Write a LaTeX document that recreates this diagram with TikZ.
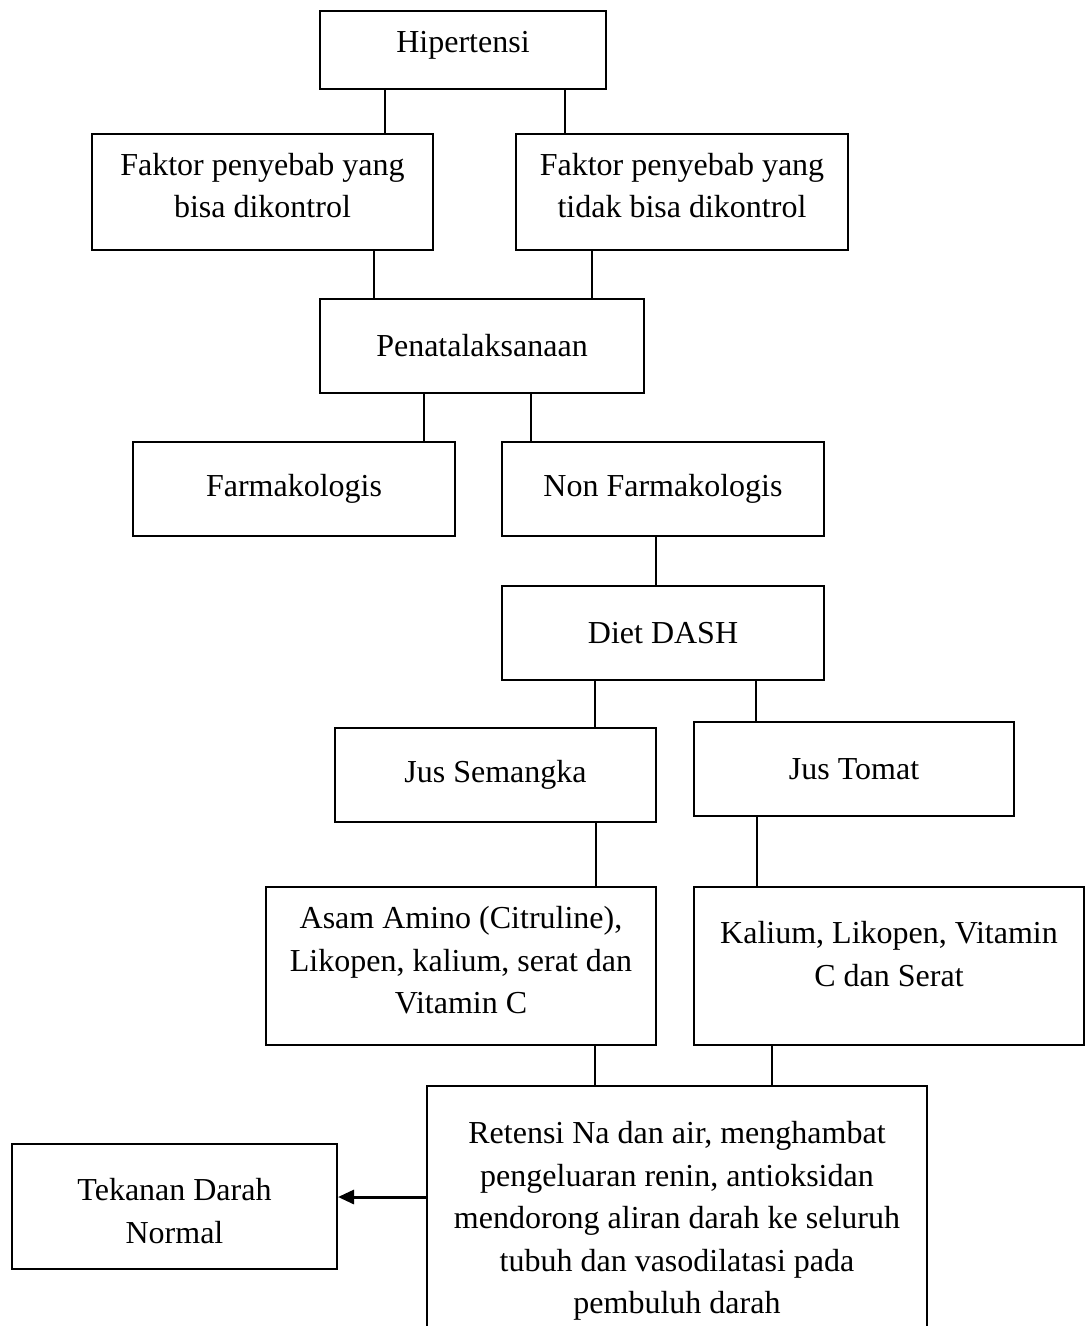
\documentclass[tikz,border=0pt]{standalone}
\usepackage{fontspec}
\setmainfont{Liberation Serif}
\usetikzlibrary{arrows.meta}

\begin{document}
\begin{tikzpicture}[x=0.5pt, y=-0.5pt,
bx/.style = {% boxes
    draw, line width=1pt, inner sep=0pt, align=center,
    font=\fontsize{16}{21.25}\selectfont,
            },
ln/.style = {% connectors
    line width=0.75pt,
            },                        ]

 \useasboundingbox (0,0) rectangle (1087,1326);
 \clip (0,0) rectangle (1087,1326);

 \node[bx, minimum width=143pt, text height=20.75pt, text depth=18.25pt] (hip) at (463,50) {Hipertensi};
 \node[bx, minimum width=170.5pt, text height=42pt, text depth=16pt] (fak1) at (262.5,192)
      {Faktor penyebab yang\\bisa dikontrol};
 \node[bx, minimum width=166pt, text height=42pt, text depth=16pt] (fak2) at (682,192)
      {Faktor penyebab yang\\tidak bisa dikontrol};
 \node[bx, minimum width=162pt, minimum height=47pt] (pen) at (482,346) {Penatalaksanaan};
 \node[bx, minimum width=161pt, minimum height=47pt] (farm) at (294,489) {Farmakologis};
 \node[bx, minimum width=161pt, minimum height=47pt] (nonf) at (663,489) {Non Farmakologis};
 \node[bx, minimum width=161pt, minimum height=47pt] (diet) at (663,633) {Diet DASH};
 \node[bx, minimum width=160.5pt, minimum height=47pt] (jsem) at (495.5,775) {Jus Semangka};
 \node[bx, minimum width=160pt, minimum height=47pt] (jtom) at (854,769) {Jus Tomat};
 \node[bx, minimum width=195pt, text height=63.25pt, text depth=15.75pt] (asam) at (461,966)
      {Asam Amino (Citruline),\\Likopen, kalium, serat dan\\Vitamin C};
 \node[bx, minimum width=195pt, text height=49.5pt, text depth=29.5pt] (kal) at (889,966)
      {Kalium, Likopen, Vitamin\\C dan Serat};
 \node[bx, minimum width=250pt, text height=113.75pt, text depth=15.75pt] (ret) at (677,1215.5)
      {Retensi Na dan air, menghambat\\pengeluaran renin, antioksidan\\mendorong aliran darah ke seluruh\\tubuh dan vasodilatasi pada\\pembuluh darah};
 \node[bx, minimum width=162.5pt, text height=49.5pt, text depth=13pt] (tek) at (174.5,1206.5)
      {Tekanan Darah\\Normal};

 \draw[ln] (hip.south -| 385,0) -- (fak1.north -| 385,0);
 \draw[ln] (hip.south -| 565,0) -- (fak2.north -| 565,0);
 \draw[ln] (fak1.south -| 374,0) -- (pen.north -| 374,0);
 \draw[ln] (fak2.south -| 592,0) -- (pen.north -| 592,0);
 \draw[ln] (pen.south -| 424,0) -- (farm.north -| 424,0);
 \draw[ln] (pen.south -| 531,0) -- (nonf.north -| 531,0);
 \draw[ln] (nonf.south -| 656,0) -- (diet.north -| 656,0);
 \draw[ln] (diet.south -| 595,0) -- (jsem.north -| 595,0);
 \draw[ln] (diet.south -| 756,0) -- (jtom.north -| 756,0);
 \draw[ln] (jsem.south -| 596,0) -- (asam.north -| 596,0);
 \draw[ln] (jtom.south -| 757,0) -- (kal.north -| 757,0);
 \draw[ln] (asam.south -| 595,0) -- (ret.north -| 595,0);
 \draw[ln] (kal.south -| 772,0) -- (ret.north -| 772,0);

 \draw[line width=1.5pt, -{Triangle[length=8pt, width=7pt]}]
      (ret.west |- 0,1197) -- (tek.east |- 0,1197);

\end{tikzpicture}
\end{document}
